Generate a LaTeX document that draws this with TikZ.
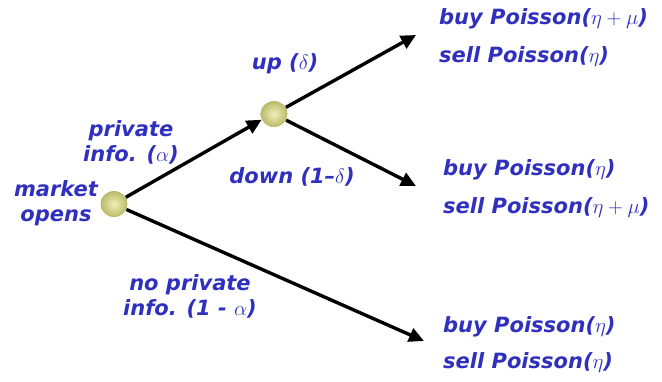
\documentclass[tikz,border=0pt]{standalone}
\usepackage{fontspec}
\setmainfont{DejaVu Sans}
\usetikzlibrary{arrows.meta,shapes.geometric}
\definecolor{lbl}{RGB}{48,48,190}
\definecolor{ballin}{RGB}{240,240,185}
\definecolor{ballout}{RGB}{185,185,105}
\begin{document}
\begin{tikzpicture}[x=1pt,y=-1pt,
  lab/.style={font=\fontsize{21}{26}\selectfont\bfseries\itshape, text=lbl, inner sep=0pt, align=center},
  rlab/.style={lab, anchor=west, align=left},
  ball/.style={ellipse, shading=radial, inner color=ballin, outer color=ballout, minimum width=27pt, minimum height=26pt, inner sep=0pt},
  arr/.style={line width=3.4pt, -{Triangle[length=15pt,width=14pt]}}]
\useasboundingbox (0,0) rectangle (662,381);
\node[ball] (root) at (114,204) {};
\node[ball] (mid) at (274,114) {};
\coordinate (t1) at (416,35);
\coordinate (t2) at (416,186);
\coordinate (t3) at (424,341);
\draw[arr] (root) -- (mid.205);
\draw[arr] (mid) -- (t1);
\draw[arr] (mid) -- (t2);
\draw[arr] (root) -- (t3);
\node[lab] (mk) at (56,203) {market\\[-1pt]opens};
\node[lab] (pi) at (131,142) {private\\[-1pt]info. ($\alpha$)};
\node[lab] (up) at (285,64) {up ($\delta$)};
\node[lab] (dn) at (292,177) {down (1–$\delta$)};
\node[lab] (np) at (190,296) {no private\\[-1pt]info. (1 - $\alpha$)};
\node[rlab] (o1) at (439,38) {buy Poisson($\eta+\mu$)\\[12pt]sell Poisson($\eta$)};
\node[rlab] (o2) at (443,189) {buy Poisson($\eta$)\\[12pt]sell Poisson($\eta+\mu$)};
\node[rlab] (o3) at (443,345) {buy Poisson($\eta$)\\[10pt]sell Poisson($\eta$)};
\end{tikzpicture}
\end{document}
